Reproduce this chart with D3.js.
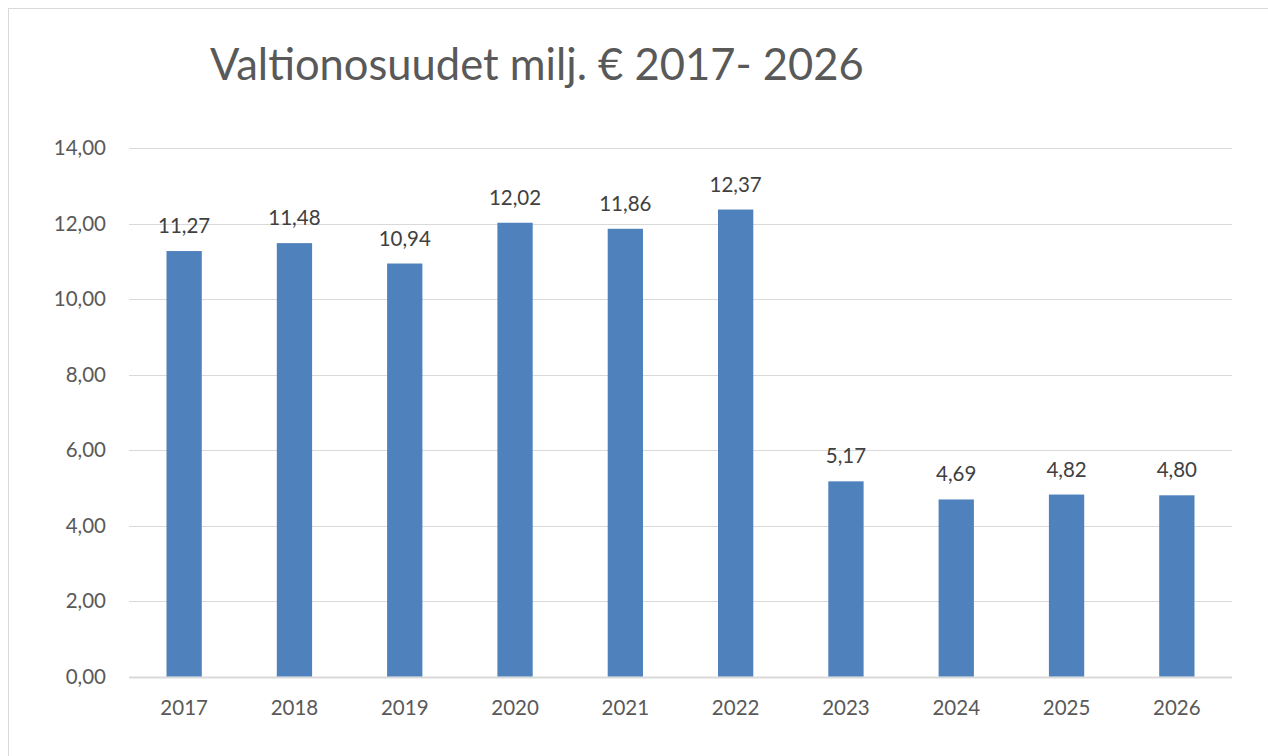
<!DOCTYPE html>
<html>
<head>
<meta charset="utf-8">
<script src="https://cdn.jsdelivr.net/npm/d3@7"></script>
<style>
  body { margin: 0; background: #fff; }
  text { font-family: Lato, "Open Sans", sans-serif; }
</style>
</head>
<body>
<div id="chart"></div>
<script>
const years = ["2017", "2018", "2019", "2020", "2021", "2022", "2023", "2024", "2025", "2026"];
const values = [11.27, 11.48, 10.94, 12.02, 11.86, 12.37, 5.17, 4.69, 4.82, 4.80];
const yTicks = [0, 2, 4, 6, 8, 10, 12, 14];

const width = 1268, height = 756;
const margin = { top: 148, right: 36, bottom: 79.5, left: 129 };
const innerW = width - margin.left - margin.right;
const innerH = height - margin.top - margin.bottom;
const labelSize = 20.5;

const fmt = (v) => v.toFixed(2).replace(".", ",");

const svg = d3
  .select("#chart")
  .append("svg")
  .attr("width", width)
  .attr("height", height);

// Chart area border (only top and left visible in the picture)
svg.append("rect")
  .attr("x", 8.5).attr("y", 8.5)
  .attr("width", width + 20).attr("height", height + 20)
  .attr("fill", "none")
  .attr("stroke", "#d9d9d9")
  .attr("stroke-width", 1);

svg.append("text")
  .attr("x", 210)
  .attr("y", 80)
  .attr("font-size", 43.5)
  .attr("fill", "#595959")
  .text("Valtionosuudet milj. € 2017- 2026");

const g = svg.append("g").attr("transform", `translate(${margin.left},${margin.top})`);

const x = d3.scaleBand().domain(years).range([0, innerW]).paddingInner(0.68).paddingOuter(0.34);
const y = d3.scaleLinear().domain([0, 14]).range([innerH, 0]);

// Gridlines
g.selectAll(".grid")
  .data(yTicks)
  .enter()
  .append("line")
  .attr("class", "grid")
  .attr("x1", 0)
  .attr("x2", innerW)
  .attr("y1", (d) => Math.round(y(d)) + 0.5)
  .attr("y2", (d) => Math.round(y(d)) + 0.5)
  .attr("stroke", "#d9d9d9")
  .attr("stroke-width", (d) => (d === 0 ? 2 : 1));

// Y axis labels
const yAxis = g.append("g").call(d3.axisLeft(y).tickValues(yTicks).tickFormat(fmt).tickSize(0).tickPadding(23));
yAxis.select(".domain").remove();
yAxis.selectAll("text").attr("font-size", labelSize).attr("fill", "#595959").attr("font-family", "Lato, sans-serif");

// X axis labels
const xAxis = g.append("g")
  .attr("transform", `translate(0,${innerH})`)
  .call(d3.axisBottom(x).tickSize(0).tickPadding(23.5));
xAxis.select(".domain").remove();
xAxis.selectAll("text").attr("font-size", labelSize).attr("fill", "#595959").attr("font-family", "Lato, sans-serif");

// Bars
g.selectAll(".bar")
  .data(values)
  .enter()
  .append("rect")
  .attr("class", "bar")
  .attr("x", (d, i) => x(years[i]))
  .attr("y", (d) => y(d))
  .attr("width", x.bandwidth())
  .attr("height", (d) => innerH - y(d))
  .attr("fill", "#4f81bd");

// Data labels
g.selectAll(".label")
  .data(values)
  .enter()
  .append("text")
  .attr("class", "label")
  .attr("x", (d, i) => x(years[i]) + x.bandwidth() / 2)
  .attr("y", (d) => y(d) - 18)
  .attr("text-anchor", "middle")
  .attr("font-size", labelSize)
  .attr("fill", "#404040")
  .text(fmt);
</script>
</body>
</html>
